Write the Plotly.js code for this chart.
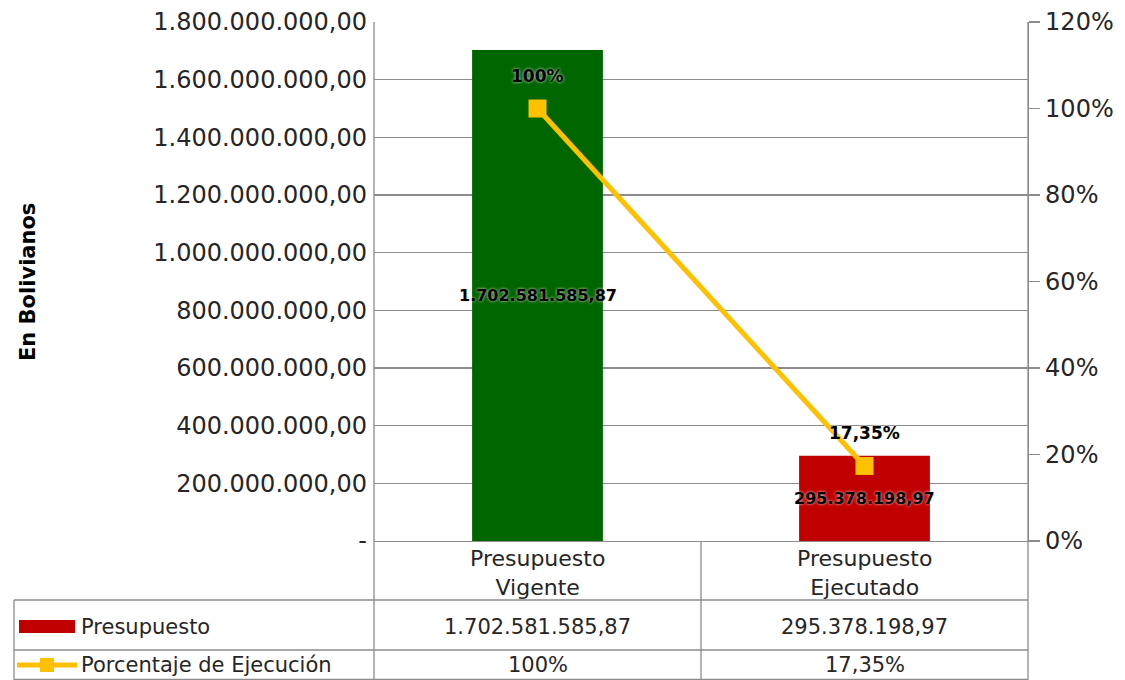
<!DOCTYPE html>
<html><head><meta charset="utf-8">
<script src="https://cdn.plot.ly/plotly-3.0.1.min.js"></script>
<style>html,body{margin:0;padding:0;background:#fff}#chart{width:1125px;height:680px}</style>
</head><body><div id="chart"></div>
<script>
const categories = ["Presupuesto<br>Vigente", "Presupuesto<br>Ejecutado"];
const budgetValues = [1702581585.87, 295378198.97];
const budgetLabels = ["1.702.581.585,87", "295.378.198,97"];
const pctValues = [1.0, 0.1735];
const pctLabels = ["100%", "17,35%"];
const barColors = ["#006600", "#C00000"];
const leftTickVals = [0, 200000000, 400000000, 600000000, 800000000, 1000000000, 1200000000, 1400000000, 1600000000, 1800000000];
const leftTickText = ["-", "200.000.000,00", "400.000.000,00", "600.000.000,00", "800.000.000,00", "1.000.000.000,00", "1.200.000.000,00", "1.400.000.000,00", "1.600.000.000,00", "1.800.000.000,00"];
const rightTickVals = [0, 0.2, 0.4, 0.6, 0.8, 1.0, 1.2];
const rightTickText = ["0%", "20%", "40%", "60%", "80%", "100%", "120%"];
const seriesNames = ["Presupuesto", "Porcentaje de Ejecución"];
const yTitle = "En Bolivianos";

const FONT = "DejaVu Sans, sans-serif";
const TXT = "#262626";
const GRID = "#8c8c8c";

// geometry in paper coords (plot area: x 374..1028, y 22..541)
const H = 519, W = 654;
const py = y => (541 - y) / H;
const px = x => (x - 374) / W;

const traces = [
  {
    type: "bar", x: categories, y: budgetValues, name: seriesNames[0],
    marker: {color: barColors}, width: 0.4, hoverinfo: "y", showlegend: false
  },
  {
    type: "scatter", mode: "lines+markers", x: categories, y: pctValues, yaxis: "y2",
    name: seriesNames[1],
    line: {color: "#FFC000", width: 5}, marker: {symbol: "square", size: 18, color: "#FFC000"},
    showlegend: false, cliponaxis: false
  }
];

const annotations = [];
const cell = (x, xref, y, text, xanchor, size) => ({x, xref, y, yref: "paper", text, showarrow: false,
  xanchor: xanchor || "center", yanchor: "middle", align: "center", font: {family: FONT, size: size || 21, color: TXT}});
budgetValues.forEach((v, i) => {
  annotations.push({x: categories[i], y: v / 2, xref: "x", yref: "y", text: "<b>" + budgetLabels[i] + "</b>",
    showarrow: false, xanchor: "center", yanchor: "middle",
    font: {family: FONT, size: 16, color: "#000", shadow: "0px 0px 3px #f2dcdb"}});
});
pctValues.forEach((v, i) => {
  annotations.push({x: categories[i], y: v, xref: "x", yref: "y2", text: "<b>" + pctLabels[i] + "</b>",
    showarrow: false, xanchor: "center", yanchor: "middle", yshift: 33,
    font: {family: FONT, size: 17, color: "#000", shadow: "0px 0px 3px #e4f2e0"}});
});
categories.forEach((c, i) => {
  annotations.push(cell(c, "x", py(573), c, "center", 22));
  annotations.push(cell(c, "x", py(627), budgetLabels[i]));
  annotations.push(cell(c, "x", py(665), pctLabels[i]));
});
annotations.push(cell(px(79), "paper", py(627), seriesNames[0], "left"));
annotations.push(cell(px(79), "paper", py(665), seriesNames[1], "left"));
annotations.push({x: px(28), xref: "paper", y: py(282), yref: "paper", text: "<b>" + yTitle + "</b>",
  textangle: -90, showarrow: false, xanchor: "center", yanchor: "middle",
  font: {family: FONT, size: 21, color: "#000"}});

const L = {color: GRID, width: 1.3};
const shapes = [
  {type: "line", xref: "paper", yref: "paper", x0: px(14), x1: 1, y0: py(600), y1: py(600), line: L},
  {type: "line", xref: "paper", yref: "paper", x0: px(14), x1: 1, y0: py(650), y1: py(650), line: L},
  {type: "line", xref: "paper", yref: "paper", x0: px(14), x1: 1, y0: py(679.5), y1: py(679.5), line: L},
  {type: "line", xref: "paper", yref: "paper", x0: px(14), x1: px(14), y0: py(600), y1: py(680), line: L},
  {type: "line", xref: "paper", yref: "paper", x0: 0, x1: 0, y0: 1, y1: py(680), line: L},
  {type: "line", xref: "paper", yref: "paper", x0: 0.5, x1: 0.5, y0: 0, y1: py(680), line: L},
  {type: "line", xref: "paper", yref: "paper", x0: 1, x1: 1, y0: 1, y1: py(680), line: L},
  {type: "rect", xref: "paper", yref: "paper", x0: px(19), x1: px(75), y0: py(633), y1: py(620),
    fillcolor: "#C00000", line: {width: 0}},
  {type: "line", xref: "paper", yref: "paper", x0: px(17), x1: px(77), y0: py(665), y1: py(665),
    line: {color: "#FFC000", width: 5}},
  {type: "rect", xref: "paper", yref: "paper", x0: px(40), x1: px(54), y0: py(672), y1: py(658),
    fillcolor: "#FFC000", line: {width: 0}}
];

const layout = {
  width: 1125, height: 680,
  margin: {l: 374, r: 97, t: 22, b: 139},
  paper_bgcolor: "#fff", plot_bgcolor: "#fff",
  bargap: 0.6,
  xaxis: {showticklabels: false, showline: true, linecolor: GRID, linewidth: 1.3, ticks: "", fixedrange: true},
  yaxis: {
    range: [0, 1800000000], tickvals: leftTickVals, ticktext: leftTickText,
    tickfont: {family: FONT, size: 24, color: TXT}, showgrid: true, gridcolor: GRID, gridwidth: 1.3,
    zeroline: false, showline: false, ticks: "", automargin: false, ticklabelstandoff: 6
  },
  yaxis2: {
    overlaying: "y", side: "right", range: [0, 1.2], tickvals: rightTickVals, ticktext: rightTickText,
    tickfont: {family: FONT, size: 24, color: TXT}, showgrid: false, zeroline: false,
    showline: true, linecolor: GRID, linewidth: 1.3, ticks: "outside", ticklen: 11, tickcolor: GRID, tickwidth: 1.3
  },
  annotations, shapes, showlegend: false
};

Plotly.newPlot("chart", traces, layout, {displayModeBar: false, staticPlot: true});
</script></body></html>
